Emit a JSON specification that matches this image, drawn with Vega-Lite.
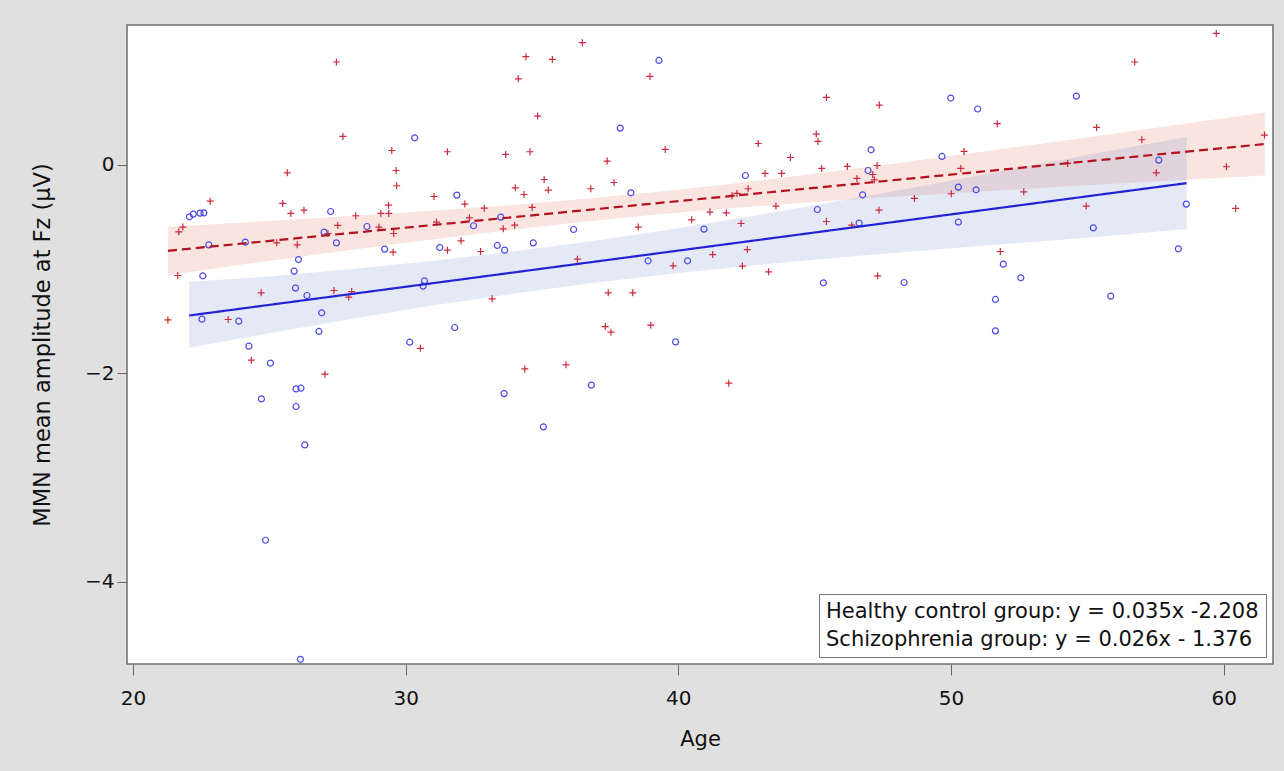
{
  "$schema": "https://vega.github.io/schema/vega-lite/v6.json",
  "width": 1146,
  "height": 639,
  "autosize": "none",
  "padding": {"left": 127, "top": 25, "right": 11, "bottom": 107},
  "background": "#e0e0e0",
  "config": {
    "view": {"fill": "white", "stroke": "#6e6e6e", "strokeWidth": 1.5},
    "axis": {
      "grid": false,
      "domain": false,
      "tickColor": "#666666",
      "tickWidth": 1,
      "labelFont": "DejaVu Sans",
      "labelFontSize": 20,
      "labelColor": "#111111",
      "titleFont": "DejaVu Sans",
      "titleFontSize": 21,
      "titleFontWeight": "normal",
      "titleColor": "#111111"
    }
  },
  "datasets": {
    "pts": [
      {"g": "SZ", "age": 27.46, "mmn": 0.985},
      {"g": "SZ", "age": 27.70, "mmn": 0.271},
      {"g": "SZ", "age": 25.66, "mmn": -0.078},
      {"g": "SZ", "age": 22.83, "mmn": -0.35},
      {"g": "SZ", "age": 25.49, "mmn": -0.372},
      {"g": "SZ", "age": 25.79, "mmn": -0.468},
      {"g": "SZ", "age": 26.27, "mmn": -0.436},
      {"g": "SZ", "age": 28.17, "mmn": -0.49},
      {"g": "SZ", "age": 27.51, "mmn": -0.583},
      {"g": "SZ", "age": 21.83, "mmn": -0.599},
      {"g": "SZ", "age": 21.68, "mmn": -0.644},
      {"g": "SZ", "age": 25.27, "mmn": -0.75},
      {"g": "SZ", "age": 26.02, "mmn": -0.769},
      {"g": "SZ", "age": 21.64, "mmn": -1.063},
      {"g": "SZ", "age": 24.70, "mmn": -1.229},
      {"g": "SZ", "age": 27.37, "mmn": -1.207},
      {"g": "SZ", "age": 28.02, "mmn": -1.217},
      {"g": "SZ", "age": 27.91, "mmn": -1.271},
      {"g": "SZ", "age": 21.28, "mmn": -1.489},
      {"g": "SZ", "age": 23.49, "mmn": -1.485},
      {"g": "SZ", "age": 24.34, "mmn": -1.875},
      {"g": "SZ", "age": 27.04, "mmn": -2.01},
      {"g": "SZ", "age": 27.15, "mmn": -0.66},
      {"g": "SZ", "age": 30.54, "mmn": -1.762},
      {"g": "SZ", "age": 36.48, "mmn": 1.17},
      {"g": "SZ", "age": 34.41, "mmn": 1.036},
      {"g": "SZ", "age": 35.38, "mmn": 1.01},
      {"g": "SZ", "age": 34.13, "mmn": 0.824},
      {"g": "SZ", "age": 34.84, "mmn": 0.466},
      {"g": "SZ", "age": 29.49, "mmn": 0.136},
      {"g": "SZ", "age": 31.53, "mmn": 0.124},
      {"g": "SZ", "age": 33.67, "mmn": 0.098},
      {"g": "SZ", "age": 34.56, "mmn": 0.124},
      {"g": "SZ", "age": 29.65, "mmn": -0.056},
      {"g": "SZ", "age": 29.67, "mmn": -0.202},
      {"g": "SZ", "age": 34.02, "mmn": -0.222},
      {"g": "SZ", "age": 34.34, "mmn": -0.286},
      {"g": "SZ", "age": 35.08, "mmn": -0.142},
      {"g": "SZ", "age": 35.23, "mmn": -0.244},
      {"g": "SZ", "age": 36.79, "mmn": -0.231},
      {"g": "SZ", "age": 31.04, "mmn": -0.305},
      {"g": "SZ", "age": 29.37, "mmn": -0.388},
      {"g": "SZ", "age": 29.09, "mmn": -0.468},
      {"g": "SZ", "age": 29.38, "mmn": -0.468},
      {"g": "SZ", "age": 32.17, "mmn": -0.378},
      {"g": "SZ", "age": 32.88, "mmn": -0.417},
      {"g": "SZ", "age": 34.64, "mmn": -0.41},
      {"g": "SZ", "age": 29.02, "mmn": -0.599},
      {"g": "SZ", "age": 29.56, "mmn": -0.66},
      {"g": "SZ", "age": 31.13, "mmn": -0.551},
      {"g": "SZ", "age": 32.34, "mmn": -0.51},
      {"g": "SZ", "age": 33.58, "mmn": -0.615},
      {"g": "SZ", "age": 34.0, "mmn": -0.58},
      {"g": "SZ", "age": 32.03, "mmn": -0.73},
      {"g": "SZ", "age": 29.54, "mmn": -0.839},
      {"g": "SZ", "age": 31.53, "mmn": -0.82},
      {"g": "SZ", "age": 32.75, "mmn": -0.833},
      {"g": "SZ", "age": 36.30, "mmn": -0.906},
      {"g": "SZ", "age": 33.17, "mmn": -1.287},
      {"g": "SZ", "age": 34.37, "mmn": -1.959},
      {"g": "SZ", "age": 35.88, "mmn": -1.92},
      {"g": "SZ", "age": 38.96, "mmn": 0.847},
      {"g": "SZ", "age": 45.43, "mmn": 0.645},
      {"g": "SZ", "age": 39.52, "mmn": 0.146},
      {"g": "SZ", "age": 37.39, "mmn": 0.035},
      {"g": "SZ", "age": 37.64, "mmn": -0.171},
      {"g": "SZ", "age": 42.93, "mmn": 0.203},
      {"g": "SZ", "age": 45.06, "mmn": 0.294},
      {"g": "SZ", "age": 45.12, "mmn": 0.223},
      {"g": "SZ", "age": 44.11, "mmn": 0.069},
      {"g": "SZ", "age": 45.26, "mmn": -0.036},
      {"g": "SZ", "age": 43.18, "mmn": -0.084},
      {"g": "SZ", "age": 43.79, "mmn": -0.084},
      {"g": "SZ", "age": 42.56, "mmn": -0.231},
      {"g": "SZ", "age": 42.15, "mmn": -0.276},
      {"g": "SZ", "age": 41.97, "mmn": -0.298},
      {"g": "SZ", "age": 43.58, "mmn": -0.397},
      {"g": "SZ", "age": 41.16, "mmn": -0.455},
      {"g": "SZ", "age": 41.76, "mmn": -0.462},
      {"g": "SZ", "age": 40.49, "mmn": -0.529},
      {"g": "SZ", "age": 42.30, "mmn": -0.564},
      {"g": "SZ", "age": 38.53, "mmn": -0.599},
      {"g": "SZ", "age": 45.43, "mmn": -0.545},
      {"g": "SZ", "age": 42.53, "mmn": -0.814},
      {"g": "SZ", "age": 41.26, "mmn": -0.862},
      {"g": "SZ", "age": 39.81, "mmn": -0.97},
      {"g": "SZ", "age": 42.35, "mmn": -0.973},
      {"g": "SZ", "age": 43.31, "mmn": -1.028},
      {"g": "SZ", "age": 37.43, "mmn": -1.229},
      {"g": "SZ", "age": 38.33, "mmn": -1.229},
      {"g": "SZ", "age": 37.32, "mmn": -1.553},
      {"g": "SZ", "age": 37.53, "mmn": -1.607},
      {"g": "SZ", "age": 38.99, "mmn": -1.54},
      {"g": "SZ", "age": 41.85, "mmn": -2.096},
      {"g": "SZ", "age": 47.37, "mmn": 0.572},
      {"g": "SZ", "age": 51.70, "mmn": 0.393},
      {"g": "SZ", "age": 50.48, "mmn": 0.127},
      {"g": "SZ", "age": 46.20, "mmn": -0.017},
      {"g": "SZ", "age": 47.29, "mmn": -0.008},
      {"g": "SZ", "age": 46.55, "mmn": -0.132},
      {"g": "SZ", "age": 47.13, "mmn": -0.094},
      {"g": "SZ", "age": 47.19, "mmn": -0.145},
      {"g": "SZ", "age": 50.36, "mmn": -0.036},
      {"g": "SZ", "age": 48.66, "mmn": -0.324},
      {"g": "SZ", "age": 50.01, "mmn": -0.279},
      {"g": "SZ", "age": 52.67, "mmn": -0.26},
      {"g": "SZ", "age": 47.36, "mmn": -0.436},
      {"g": "SZ", "age": 46.36, "mmn": -0.58},
      {"g": "SZ", "age": 51.81, "mmn": -0.833},
      {"g": "SZ", "age": 47.31, "mmn": -1.066},
      {"g": "SZ", "age": 59.73, "mmn": 1.259},
      {"g": "SZ", "age": 56.74, "mmn": 0.985},
      {"g": "SZ", "age": 55.34, "mmn": 0.357},
      {"g": "SZ", "age": 57.0, "mmn": 0.239},
      {"g": "SZ", "age": 61.50, "mmn": 0.284},
      {"g": "SZ", "age": 54.28, "mmn": 0.012},
      {"g": "SZ", "age": 57.53, "mmn": -0.078},
      {"g": "SZ", "age": 60.10, "mmn": -0.02},
      {"g": "SZ", "age": 54.96, "mmn": -0.397},
      {"g": "SZ", "age": 60.44, "mmn": -0.42},
      {"g": "HC", "age": 22.07, "mmn": -0.5},
      {"g": "HC", "age": 22.21, "mmn": -0.474},
      {"g": "HC", "age": 22.46, "mmn": -0.465},
      {"g": "HC", "age": 22.60, "mmn": -0.462},
      {"g": "HC", "age": 27.25, "mmn": -0.449},
      {"g": "HC", "age": 27.01, "mmn": -0.647},
      {"g": "HC", "age": 27.46, "mmn": -0.75},
      {"g": "HC", "age": 22.78, "mmn": -0.769},
      {"g": "HC", "age": 24.12, "mmn": -0.743},
      {"g": "HC", "age": 26.07, "mmn": -0.91},
      {"g": "HC", "age": 25.91, "mmn": -1.021},
      {"g": "HC", "age": 22.56, "mmn": -1.066},
      {"g": "HC", "age": 25.96, "mmn": -1.184},
      {"g": "HC", "age": 26.38, "mmn": -1.255},
      {"g": "HC", "age": 22.53, "mmn": -1.482},
      {"g": "HC", "age": 23.88, "mmn": -1.501},
      {"g": "HC", "age": 26.92, "mmn": -1.421},
      {"g": "HC", "age": 26.82, "mmn": -1.60},
      {"g": "HC", "age": 24.25, "mmn": -1.741},
      {"g": "HC", "age": 25.04, "mmn": -1.904},
      {"g": "HC", "age": 25.98, "mmn": -2.151},
      {"g": "HC", "age": 26.16, "mmn": -2.144},
      {"g": "HC", "age": 24.71, "mmn": -2.247},
      {"g": "HC", "age": 25.98, "mmn": -2.32},
      {"g": "HC", "age": 26.30, "mmn": -2.688},
      {"g": "HC", "age": 24.86, "mmn": -3.603},
      {"g": "HC", "age": 26.14, "mmn": -4.745},
      {"g": "HC", "age": 30.33, "mmn": 0.258},
      {"g": "HC", "age": 31.88, "mmn": -0.292},
      {"g": "HC", "age": 28.58, "mmn": -0.593},
      {"g": "HC", "age": 33.49, "mmn": -0.503},
      {"g": "HC", "age": 32.49, "mmn": -0.586},
      {"g": "HC", "age": 36.16, "mmn": -0.622},
      {"g": "HC", "age": 29.23, "mmn": -0.81},
      {"g": "HC", "age": 31.25, "mmn": -0.795},
      {"g": "HC", "age": 33.36, "mmn": -0.775},
      {"g": "HC", "age": 33.63, "mmn": -0.82},
      {"g": "HC", "age": 34.68, "mmn": -0.75},
      {"g": "HC", "age": 30.69, "mmn": -1.114},
      {"g": "HC", "age": 30.64, "mmn": -1.165},
      {"g": "HC", "age": 31.8, "mmn": -1.562},
      {"g": "HC", "age": 30.15, "mmn": -1.703},
      {"g": "HC", "age": 33.61, "mmn": -2.196},
      {"g": "HC", "age": 35.05, "mmn": -2.515},
      {"g": "HC", "age": 36.81, "mmn": -2.115},
      {"g": "HC", "age": 39.29, "mmn": 1.0},
      {"g": "HC", "age": 37.87, "mmn": 0.351},
      {"g": "HC", "age": 38.26, "mmn": -0.27},
      {"g": "HC", "age": 42.46, "mmn": -0.104},
      {"g": "HC", "age": 45.10, "mmn": -0.43},
      {"g": "HC", "age": 40.94, "mmn": -0.618},
      {"g": "HC", "age": 38.89, "mmn": -0.922},
      {"g": "HC", "age": 40.34, "mmn": -0.922},
      {"g": "HC", "age": 45.32, "mmn": -1.133},
      {"g": "HC", "age": 39.90, "mmn": -1.70},
      {"g": "HC", "age": 49.99, "mmn": 0.639},
      {"g": "HC", "age": 50.98, "mmn": 0.534},
      {"g": "HC", "age": 47.07, "mmn": 0.143},
      {"g": "HC", "age": 49.67, "mmn": 0.079},
      {"g": "HC", "age": 46.96, "mmn": -0.056},
      {"g": "HC", "age": 50.27, "mmn": -0.215},
      {"g": "HC", "age": 50.92, "mmn": -0.241},
      {"g": "HC", "age": 46.76, "mmn": -0.289},
      {"g": "HC", "age": 46.63, "mmn": -0.56},
      {"g": "HC", "age": 50.27, "mmn": -0.551},
      {"g": "HC", "age": 48.28, "mmn": -1.13},
      {"g": "HC", "age": 51.92, "mmn": -0.954},
      {"g": "HC", "age": 52.56, "mmn": -1.085},
      {"g": "HC", "age": 51.63, "mmn": -1.293},
      {"g": "HC", "age": 51.63, "mmn": -1.594},
      {"g": "HC", "age": 54.60, "mmn": 0.658},
      {"g": "HC", "age": 57.62, "mmn": 0.044},
      {"g": "HC", "age": 58.63, "mmn": -0.378},
      {"g": "HC", "age": 55.22, "mmn": -0.606},
      {"g": "HC", "age": 58.34, "mmn": -0.807},
      {"g": "HC", "age": 55.86, "mmn": -1.261}
    ],
    "bandSZ": [
      {"age": 21.28, "lo": -1.06, "hi": -0.599},
      {"age": 24, "lo": -0.958, "hi": -0.555},
      {"age": 27, "lo": -0.852, "hi": -0.508},
      {"age": 30, "lo": -0.749, "hi": -0.459},
      {"age": 33, "lo": -0.652, "hi": -0.404},
      {"age": 36, "lo": -0.561, "hi": -0.341},
      {"age": 39, "lo": -0.483, "hi": -0.267},
      {"age": 42, "lo": -0.416, "hi": -0.182},
      {"age": 45, "lo": -0.358, "hi": -0.087},
      {"age": 48, "lo": -0.306, "hi": 0.014},
      {"age": 51, "lo": -0.259, "hi": 0.119},
      {"age": 54, "lo": -0.212, "hi": 0.226},
      {"age": 57, "lo": -0.169, "hi": 0.335},
      {"age": 61.51, "lo": -0.104, "hi": 0.50}
    ],
    "bandHC": [
      {"age": 22.06, "lo": -1.757, "hi": -1.124},
      {"age": 25, "lo": -1.617, "hi": -1.073},
      {"age": 28, "lo": -1.481, "hi": -1.001},
      {"age": 31, "lo": -1.352, "hi": -0.922},
      {"age": 34, "lo": -1.235, "hi": -0.831},
      {"age": 37, "lo": -1.131, "hi": -0.727},
      {"age": 40, "lo": -1.039, "hi": -0.609},
      {"age": 43, "lo": -0.960, "hi": -0.480},
      {"age": 46, "lo": -0.888, "hi": -0.344},
      {"age": 49, "lo": -0.823, "hi": -0.201},
      {"age": 52, "lo": -0.761, "hi": -0.055},
      {"age": 55, "lo": -0.701, "hi": 0.093},
      {"age": 58.64, "lo": -0.618, "hi": 0.265}
    ],
    "fit": [
      {"label": "Healthy control group: y = 0.035x -2.208", "age": 22.06, "mmn": -1.447},
      {"label": "Healthy control group: y = 0.035x -2.208", "age": 58.64, "mmn": -0.177},
      {"label": "Schizophrenia group: y = 0.026x - 1.376", "age": 21.28, "mmn": -0.826},
      {"label": "Schizophrenia group: y = 0.026x - 1.376", "age": 61.51, "mmn": 0.198}
    ]
  },
  "layer": [
    {
      "data": {"name": "bandSZ"},
      "mark": {"type": "area", "color": "#dd6a55", "opacity": 0.18},
      "encoding": {
        "x": {"field": "age", "type": "quantitative", "title": "Age",
              "scale": {"domain": [19.78, 61.81], "nice": false, "zero": false},
              "axis": {"values": [20, 30, 40, 50, 60], "format": "d", "tickSize": 11, "labelPadding": 13, "titlePadding": 20}},
        "y": {"field": "lo", "type": "quantitative", "title": "MMN mean amplitude at Fz (μV)",
              "scale": {"domain": [-4.79, 1.34], "nice": false, "zero": false},
              "axis": {"values": [-4, -2, 0], "format": "d", "tickSize": 10, "labelPadding": 3, "titlePadding": 30, "titleFontSize": 22.5}},
        "y2": {"field": "hi"}
      }
    },
    {
      "data": {"name": "bandHC"},
      "mark": {"type": "area", "color": "#6f86c6", "opacity": 0.18},
      "encoding": {
        "x": {"field": "age", "type": "quantitative", "title": "Age"},
        "y": {"field": "lo", "type": "quantitative", "title": "MMN mean amplitude at Fz (μV)"},
        "y2": {"field": "hi"}
      }
    },
    {
      "data": {"name": "pts"},
      "transform": [{"filter": "datum.g === 'SZ'"}],
      "mark": {"type": "point", "shape": "M-1,0L1,0M0,-1L0,1", "filled": false, "color": "#cc2a3c", "strokeWidth": 1.2, "size": 49, "opacity": 1},
      "encoding": {
        "x": {"field": "age", "type": "quantitative", "title": "Age"},
        "y": {"field": "mmn", "type": "quantitative", "title": "MMN mean amplitude at Fz (μV)"}
      }
    },
    {
      "data": {"name": "pts"},
      "transform": [{"filter": "datum.g === 'HC'"}],
      "mark": {"type": "point", "shape": "circle", "filled": false, "color": "#4b4be8", "strokeWidth": 1.2, "size": 36, "opacity": 1},
      "encoding": {
        "x": {"field": "age", "type": "quantitative", "title": "Age"},
        "y": {"field": "mmn", "type": "quantitative", "title": "MMN mean amplitude at Fz (μV)"}
      }
    },
    {
      "data": {"name": "fit"},
      "mark": {"type": "line", "strokeWidth": 2.2},
      "encoding": {
        "x": {"field": "age", "type": "quantitative", "title": "Age"},
        "y": {"field": "mmn", "type": "quantitative", "title": "MMN mean amplitude at Fz (μV)"},
        "color": {
          "field": "label", "type": "nominal",
          "scale": {"domain": ["Healthy control group: y = 0.035x -2.208", "Schizophrenia group: y = 0.026x - 1.376"], "range": ["#2323d6", "#b3121f"]},
          "legend": {
            "title": null, "orient": "bottom-right", "offset": 7, "padding": 7,
            "strokeColor": "#777777", "fillColor": "white",
            "labelFont": "DejaVu Sans", "labelFontSize": 21, "labelColor": "#111111", "labelLimit": 0,
            "symbolType": "circle", "symbolSize": 0, "symbolOpacity": 0, "symbolStrokeWidth": 0, "labelOffset": -21, "symbolOffset": 0,
            "rowPadding": 6
          }
        },
        "strokeDash": {
          "field": "label", "type": "nominal",
          "scale": {"domain": ["Healthy control group: y = 0.035x -2.208", "Schizophrenia group: y = 0.026x - 1.376"], "range": [[1, 0], [9, 5]]},
          "legend": null
        }
      }
    }
  ]
}
